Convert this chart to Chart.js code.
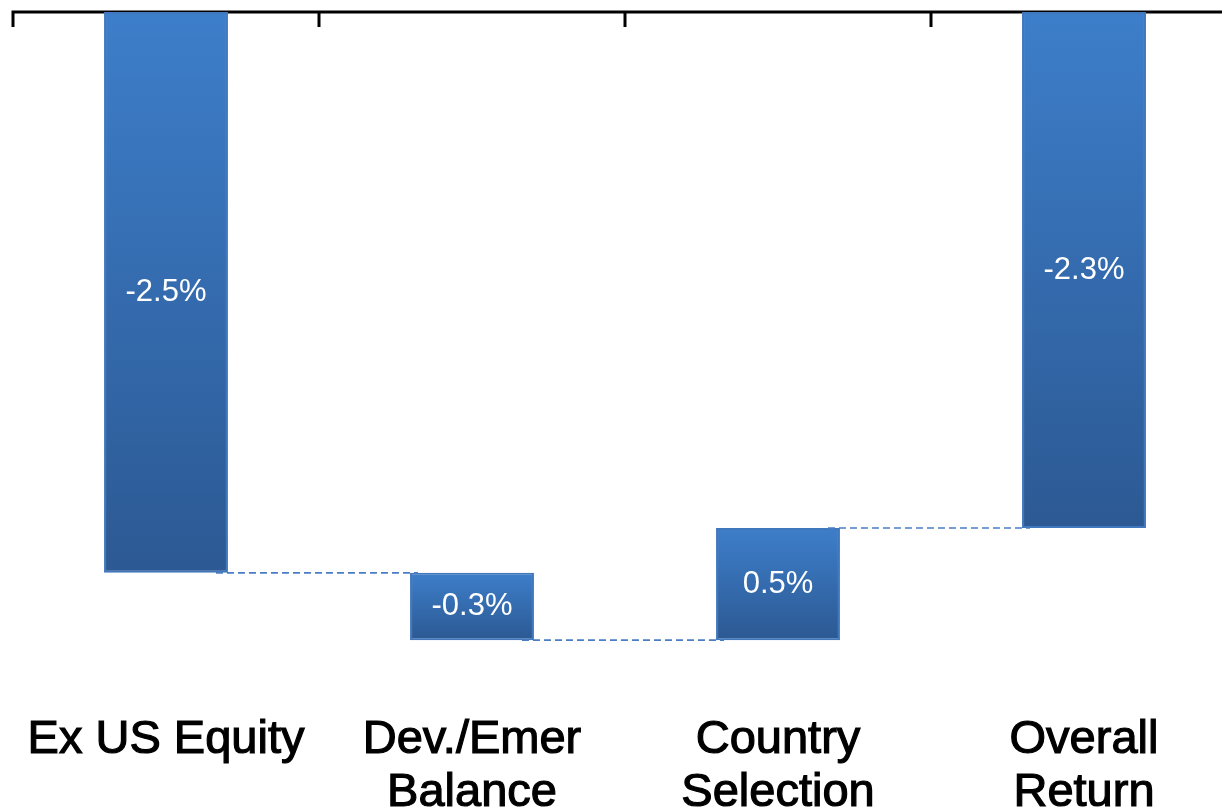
<!DOCTYPE html>
<html>
<head>
<meta charset="utf-8">
<script src="https://cdn.jsdelivr.net/npm/chart.js@4/dist/chart.umd.min.js"></script>
<style>
  html, body { margin: 0; padding: 0; background: #fff; overflow: hidden; }
  #wrap { width: 1240px; height: 840px; position: relative; }
</style>
</head>
<body>
<div id="wrap"><canvas id="chart"></canvas></div>
<script>
// attribution steps, in percent
const categories = [['Ex US Equity'], ['Dev./Emer', 'Balance'], ['Country', 'Selection'], ['Overall', 'Return']];
const changes = [-2.5, -0.3, 0.5, -2.3];
const isTotal = [false, false, false, true];

// floating bar ranges for the waterfall
const ranges = [];
let running = 0;
changes.forEach((v, i) => {
  if (isTotal[i]) {
    ranges.push([0, v]);
  } else {
    ranges.push([running, running + v]);
    running += v;
  }
});

const FONT = '"Liberation Sans", Arial, sans-serif';

// zero line along the top, with short ticks between categories
const zeroAxis = {
  id: 'zeroAxis',
  beforeDatasetsDraw(chart) {
    const { ctx, chartArea, scales } = chart;
    const y = scales.y.getPixelForValue(0);
    const x = scales.x;
    ctx.save();
    ctx.strokeStyle = '#000';
    ctx.lineWidth = 3;
    ctx.beginPath();
    ctx.moveTo(chartArea.left - 1.5, y);
    ctx.lineTo(chartArea.right, y);
    const step = x.getPixelForValue(1) - x.getPixelForValue(0);
    for (let i = 0; i <= categories.length; i++) {
      const bx = x.getPixelForValue(0) - step / 2 + i * step;
      ctx.moveTo(bx, y);
      ctx.lineTo(bx, y + 15);
    }
    ctx.stroke();
    ctx.restore();
  }
};

// dashed connectors and value labels
const waterfallExtras = {
  id: 'waterfallExtras',
  afterDatasetsDraw(chart) {
    const { ctx, scales } = chart;
    const bars = chart.getDatasetMeta(0).data;
    ctx.save();
    ctx.strokeStyle = '#4a7dc4';
    ctx.lineWidth = 1.6;
    ctx.setLineDash([7, 4]);
    for (let i = 0; i < bars.length - 1; i++) {
      const y = scales.y.getPixelForValue(ranges[i][1]);
      const x1 = bars[i].x + bars[i].width / 2 - 12;
      const x2 = bars[i + 1].x - bars[i + 1].width / 2 + 8;
      ctx.beginPath();
      ctx.moveTo(x1, y);
      ctx.lineTo(x2, y);
      ctx.stroke();
    }
    ctx.setLineDash([]);
    ctx.fillStyle = '#fff';
    ctx.font = '31px ' + FONT;
    ctx.textAlign = 'center';
    ctx.textBaseline = 'middle';
    bars.forEach((bar, i) => {
      const cy = (bar.y + bar.base) / 2;
      ctx.fillText(changes[i].toFixed(1) + '%', bar.x, cy);
    });
    ctx.restore();
  }
};

function barFill(context) {
  const chart = context.chart;
  if (!chart.chartArea || context.dataIndex === undefined) return '#3570b8';
  const r = ranges[context.dataIndex];
  const yTop = chart.scales.y.getPixelForValue(Math.max(r[0], r[1]));
  const yBot = chart.scales.y.getPixelForValue(Math.min(r[0], r[1]));
  const g = chart.ctx.createLinearGradient(0, yTop, 0, yBot);
  g.addColorStop(0, '#3d7eca');
  g.addColorStop(1, '#2c5993');
  return g;
}

new Chart(document.getElementById('chart'), {
  type: 'bar',
  data: {
    labels: categories,
    datasets: [{
      data: ranges,
      backgroundColor: barFill,
      borderColor: '#4178bd',
      borderWidth: 2,
      borderSkipped: false,
      barPercentage: 0.405,
      categoryPercentage: 1
    }]
  },
  options: {
    responsive: true,
    maintainAspectRatio: false,
    animation: false,
    devicePixelRatio: 1,
    layout: { padding: { left: 13, right: 3, top: 12, bottom: 0 } },
    plugins: {
      legend: { display: false },
      tooltip: { enabled: false }
    },
    scales: {
      x: {
        grid: { display: false },
        border: { display: false },
        ticks: {
          color: '#000',
          textStrokeColor: '#000',
          textStrokeWidth: 1.2,
          padding: 21,
          font: { family: FONT, size: 47, lineHeight: 53 / 47 }
        },
        afterFit(scale) { scale.height = 155; }
      },
      y: {
        display: false,
        min: -3,
        max: 0
      }
    }
  },
  plugins: [zeroAxis, waterfallExtras]
});
</script>
</body>
</html>
